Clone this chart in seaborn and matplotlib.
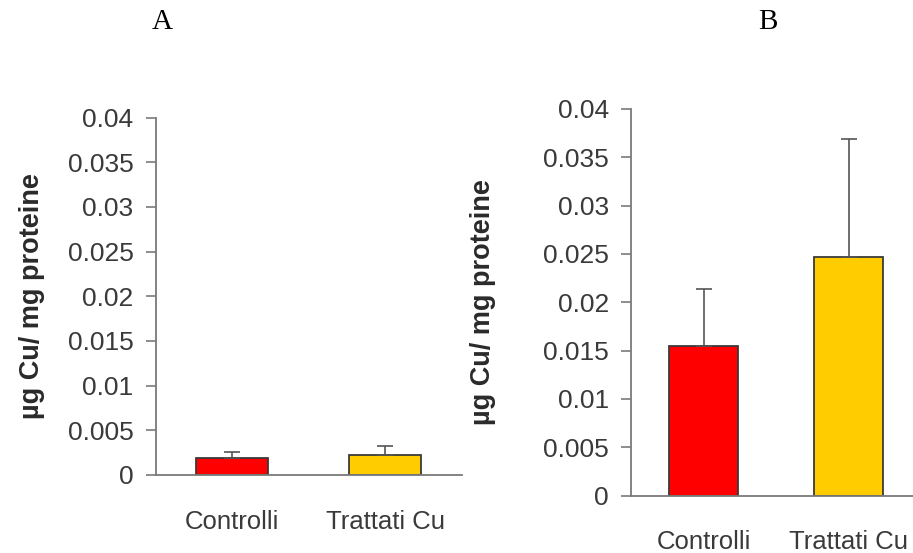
import matplotlib
matplotlib.use("Agg")
import matplotlib.pyplot as plt
import seaborn as sns
import pandas as pd
from matplotlib.ticker import FixedLocator

categories = ["Controlli", "Trattati Cu"]
values_a = [0.0019, 0.0022]
errors_a = [0.0007, 0.0010]
values_b = [0.0155, 0.0247]
errors_b = [0.0059, 0.0122]
yticks = [0, 0.005, 0.01, 0.015, 0.02, 0.025, 0.03, 0.035, 0.04]
ytick_labels = ["0", "0.005", "0.01", "0.015", "0.02", "0.025", "0.03", "0.035", "0.04"]
bar_colors = ["#FF0000", "#FFCC00"]
panel_titles = ["A", "B"]
ylabel = "µg Cu/ mg proteine"

sns.set_style("white")
plt.rcParams['font.family'] = ['Liberation Sans', 'DejaVu Sans']

fig = plt.figure(figsize=(9.13, 5.53), dpi=100)
W, H = 913, 553

def make_axes(left_px, right_px, top_px, bottom_px):
    return fig.add_axes([left_px / W, 1 - bottom_px / H,
                         (right_px - left_px) / W, (bottom_px - top_px) / H])

ax_a = make_axes(155.7, 462, 117.5, 475)
ax_b = make_axes(631, 921, 109, 495.5)

axis_gray = "#7a7a7a"
text_gray = "#3a3a3a"

for ax, vals, errs, title, title_x, ylab_x in [
        (ax_a, values_a, errors_a, panel_titles[0], 162, 32),
        (ax_b, values_b, errors_b, panel_titles[1], 768, 483)]:
    df = pd.DataFrame({"cat": categories, "val": vals})
    sns.barplot(data=df, x="cat", y="val", hue="cat", palette=bar_colors,
                saturation=1, legend=False, width=0.47, edgecolor="#3a3a3a",
                linewidth=1.3, errorbar=None, ax=ax)
    ax.errorbar(range(len(categories)), vals, yerr=[[0] * len(errs), errs],
                fmt="none", ecolor="#555555", elinewidth=1.2, capsize=6,
                capthick=1.2, zorder=1)
    ax.set_ylim(0, 0.04)
    ax.set_xlim(-0.5, 1.5)
    ax.set_yticks(yticks)
    ax.set_yticklabels(ytick_labels, fontsize=19, color=text_gray)
    ax.set_xticks([-0.5, 0.5, 1.5])
    ax.set_xticklabels(["", "", ""])
    ax.xaxis.set_minor_locator(FixedLocator([0, 1]))
    ax.set_xticklabels(categories, minor=True, fontsize=18.5, color=text_gray)
    ax.tick_params(axis="x", which="minor", length=0, pad=25)
    ax.tick_params(axis="x", which="major", length=7, width=1.2, color=axis_gray, direction="out")
    ax.tick_params(axis="y", which="major", length=7, width=1.2, color=axis_gray,
                   direction="out", pad=9, left=True)
    ax.set_xlabel("")
    ax.set_ylabel("")
    for s in ["top", "right"]:
        ax.spines[s].set_visible(False)
    for s in ["left", "bottom"]:
        ax.spines[s].set_visible(True)
        ax.spines[s].set_color(axis_gray)
        ax.spines[s].set_linewidth(1.3)
    ax.patch.set_alpha(0)
    fig.text(title_x / W, 1 - 22 / H, title, fontsize=21, family="Liberation Serif",
             ha="center", va="center", color="black")
    pos = ax.get_position()
    fig.text(ylab_x / W, (pos.y0 + pos.y1) / 2, ylabel, rotation=90, fontsize=19.5,
             fontweight="bold", ha="center", va="center", color="#2a2a2a")

fig.savefig("out.png", dpi=100, facecolor="white")
